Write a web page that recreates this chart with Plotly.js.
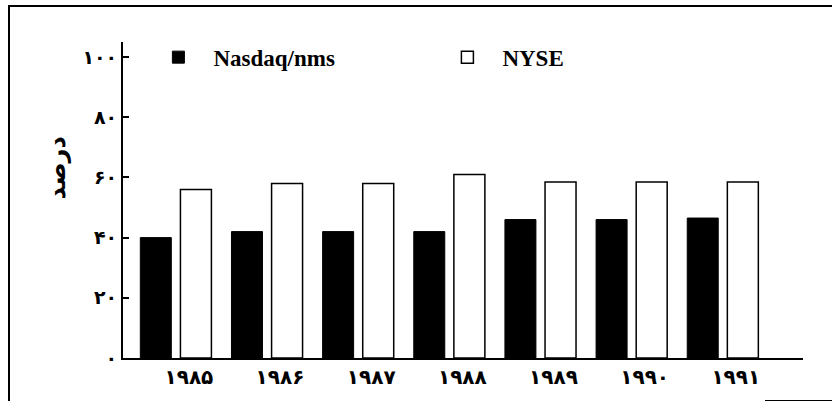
<!DOCTYPE html>
<html>
<head>
<meta charset="utf-8">
<script src="https://cdn.plot.ly/plotly-3.0.1.min.js"></script>
<style>
  html, body { margin: 0; padding: 0; background: #fff; }
  #wrap { position: relative; width: 832px; height: 404px; overflow: hidden; }
  #chart { width: 832px; height: 404px; }
  .frame { position: absolute; background: #000; pointer-events: none; }
</style>
</head>
<body>
<div id="wrap">
  <div id="chart"></div>
  <div class="frame" style="left:8px; top:5px; width:824px; height:2px;"></div>
  <div class="frame" style="left:8px; top:5px; width:2px; height:396px;"></div>
  <div class="frame" style="left:765px; top:400px; width:67px; height:1px;"></div>
</div>
<script>
// Data
const years = ["۱۹۸۵", "۱۹۸۶", "۱۹۸۷", "۱۹۸۸", "۱۹۸۹", "۱۹۹۰", "۱۹۹۱"];
const nasdaqName = "Nasdaq/nms";
const nyseName = "NYSE";
const nasdaqValues = [40, 42, 42, 42, 46, 46, 46.5];
const nyseValues = [56, 58, 58, 61, 58.5, 58.5, 58.5];
const yTickVals = [0, 20, 40, 60, 80, 100];
const yTickText = ["۰", "۲۰", "۴۰", "۶۰", "۸۰", "۱۰۰"];
const yTitle = "درصد";

const idx = years.map((_, i) => i);

const traces = [
  {
    type: "bar",
    name: nasdaqName,
    x: idx,
    y: nasdaqValues,
    width: 0.34,
    offset: -0.39,
    marker: { color: "#000", line: { color: "#000", width: 1 } },
    hoverinfo: "y"
  },
  {
    type: "bar",
    name: nyseName,
    x: idx,
    y: nyseValues,
    width: 0.34,
    offset: 0.05,
    marker: { color: "#fff", line: { color: "#000", width: 1.5 } },
    hoverinfo: "y"
  }
];

const layout = {
  width: 832,
  height: 404,
  margin: { l: 123, r: 29, t: 42, b: 46, pad: 0 },
  paper_bgcolor: "#fff",
  plot_bgcolor: "#fff",
  barmode: "overlay",
  showlegend: true,
  legend: {
    orientation: "h",
    x: 0.03,
    y: 1.02,
    xanchor: "left",
    yanchor: "top",
    itemwidth: 60,
    entrywidth: 214,
    font: { family: "Liberation Serif", size: 23, color: "#000", weight: "bold" },
    bgcolor: "rgba(0,0,0,0)"
  },
  annotations: [
    {
      text: yTitle,
      xref: "paper",
      yref: "y",
      x: -0.097,
      y: 63,
      xanchor: "center",
      yanchor: "middle",
      textangle: -90,
      showarrow: false,
      font: { family: "DejaVu Sans", size: 24, color: "#000", weight: "bold" }
    }
  ],
  xaxis: {
    type: "linear",
    range: [-0.58, 6.88],
    tickvals: idx,
    ticktext: years,
    ticks: "",
    showgrid: false,
    zeroline: false,
    showline: true,
    linecolor: "#000",
    linewidth: 1.5,
    ticklabelshift: 13,
    tickfont: { family: "DejaVu Sans", size: 20, color: "#000", weight: "bold" },
    fixedrange: true
  },
  yaxis: {
    range: [0, 105],
    tickvals: yTickVals,
    ticktext: yTickText,
    ticks: "inside",
    ticklen: 6,
    tickwidth: 2,
    tickcolor: "#000",
    showgrid: false,
    zeroline: false,
    showline: true,
    linecolor: "#000",
    linewidth: 2,
    tickfont: { family: "DejaVu Sans", size: 19, color: "#000", weight: "bold" },
    fixedrange: true
  }
};

Plotly.newPlot("chart", traces, layout, { displayModeBar: false, staticPlot: true });
</script>
</body>
</html>
